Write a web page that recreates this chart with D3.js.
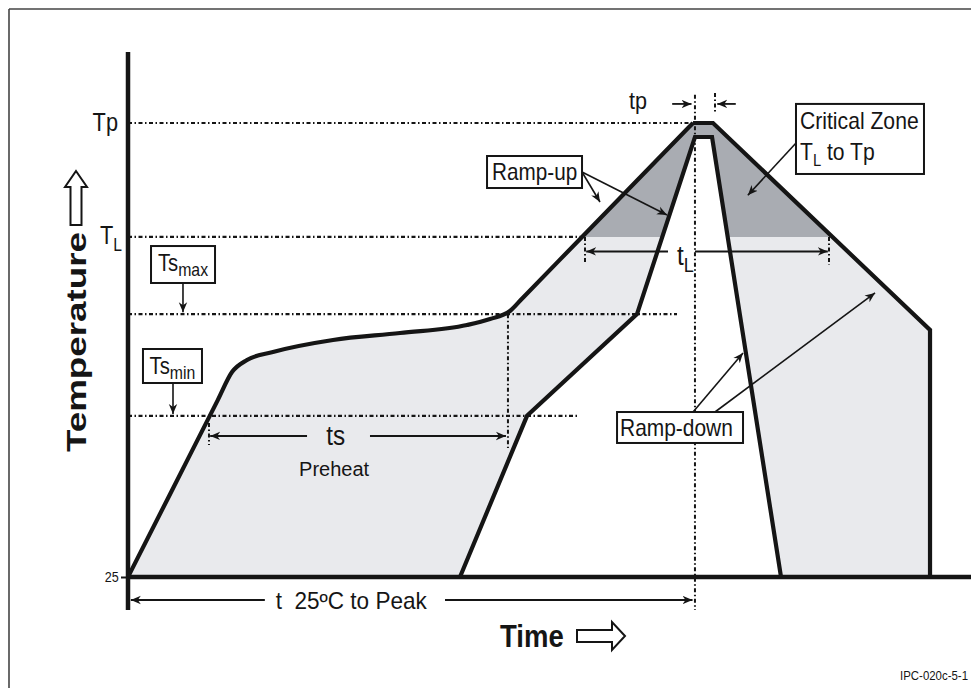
<!DOCTYPE html>
<html><head><meta charset="utf-8">
<script src="https://cdn.jsdelivr.net/npm/d3@7"></script>
<style>
html,body{margin:0;padding:0;background:#fff;}
svg{display:block;font-family:"Liberation Sans",Arial,Helvetica,sans-serif;}
</style></head><body>
<svg id="c" width="971" height="688"></svg>
<script>
// ---------- data (schematic units: time 0-100, temperature 0-100 relative) ----------
const levelNames   = ["Tp", "TL", "TsMax", "TsMin"];
const levelValues  = [100, 74.9, 57.9, 35.5];
const levelLineEnd = [70.19, 56.77, 68.2, 55.78];
const yTickValues  = [0];
const yTickLabels  = ["25"];
// outer (upper) profile – heating part
const heatTime = [0, 5, 11.15, 12.92, 14.78, 18.01, 25.47, 33.79, 42.11, 44.97, 47.45, 49.0, 56.40, 70.19];
const heatTemp = [0, 17.47, 38.97, 45.15, 47.80, 49.56, 52.20, 53.74, 55.51, 56.83, 58.59, 61.41, 74.9, 100];
// outer profile – peak and cooling
const coolTime = [70.19, 72.67, 99.63, 99.63];
const coolTemp = [100, 100, 54.41, 0];
// inner (lower) profile
const innerTime = [41.24, 49.57, 63.23, 70.43, 72.55, 81.12];
const innerTemp = [0, 35.5, 57.9, 96.92, 96.92, 0];
// time markers
const tsStart = 10.06, tsEnd = 47.2, peakTime = 70.43, tpEnd = 72.92, tLStart = 56.77, tLEnd = 87.08;

// ---------- scales ----------
const x = d3.scaleLinear().domain([0, 100]).range([128, 933]);
const y = d3.scaleLinear().domain([0, 100]).range([577, 123]);

const svg = d3.select("#c");
const INK = "#151515";

// frame
svg.append("line").attr("x1",9).attr("y1",9).attr("x2",971).attr("y2",9).attr("stroke","#444").attr("stroke-width",1.6);
svg.append("line").attr("x1",9).attr("y1",9).attr("x2",9).attr("y2",688).attr("stroke","#444").attr("stroke-width",1.6);

// defs
const defs = svg.append("defs");
defs.append("clipPath").attr("id","aboveTL").append("rect")
  .attr("x",0).attr("y",0).attr("width",971).attr("height",y(levelValues[1]));
defs.append("marker").attr("id","arr").attr("viewBox","-10 -5 11 10")
  .attr("refX",0).attr("refY",0).attr("markerWidth",11).attr("markerHeight",10)
  .attr("markerUnits","userSpaceOnUse").attr("orient","auto")
  .append("path").attr("d","M0,0L-10,-4.2L-7,0L-10,4.2Z").attr("fill",INK);

// profile generators
const heatPts = heatTime.map((t,i)=>[t,heatTemp[i]]);
const coolPts = coolTime.map((t,i)=>[t,coolTemp[i]]);
const innerPts = innerTime.map((t,i)=>[t,innerTemp[i]]);
const smooth = d3.line().x(d=>x(d[0])).y(d=>y(d[1])).curve(d3.curveMonotoneX);
const straight = d3.line().x(d=>x(d[0])).y(d=>y(d[1]));
const outerD = smooth(heatPts) + straight(coolPts).replace(/^M/,"L") + "Z";
const innerD = straight(innerPts) + "Z";

// fills
svg.append("path").attr("d",outerD).attr("fill","#e9eaed");
svg.append("path").attr("d",outerD).attr("fill","#a9acb2").attr("clip-path","url(#aboveTL)");
svg.append("path").attr("d",innerD).attr("fill","#ffffff");

// dotted reference lines
const dash = "4,2.5,1.5,2.5";
const dotted = (x1,y1,x2,y2,w)=>svg.append("line")
  .attr("x1",x(x1)).attr("y1",y(y1)).attr("x2",x(x2)).attr("y2",y(y2))
  .attr("stroke",INK).attr("stroke-width",w||2).attr("stroke-dasharray",dash);
levelValues.forEach((v,i)=>dotted(0,v,levelLineEnd[i],v,2.2));
dotted(tsEnd, levelValues[2], tsEnd, 28.4);
dotted(peakTime, 106.2, peakTime, -7.27, 2);
dotted(tpEnd, 106.6, tpEnd, 102.2);
dotted(tLStart, levelValues[1], tLStart, 69.38);
dotted(tLEnd, levelValues[1], tLEnd, 68.72);
dotted(tsStart, 33.92, tsStart, 29.07);

// axes (thick lines)
svg.append("line").attr("x1",x(0)).attr("y1",52).attr("x2",x(0)).attr("y2",y(-7.27))
  .attr("stroke",INK).attr("stroke-width",4.5);
svg.append("line").attr("x1",x(0)).attr("y1",y(0)).attr("x2",971).attr("y2",y(0))
  .attr("stroke",INK).attr("stroke-width",4.5);
const yAxis = svg.append("g").attr("transform",`translate(${x(0)-2},0)`)
  .call(d3.axisLeft(y).tickValues(yTickValues).tickFormat((d,i)=>yTickLabels[i]).tickSize(5).tickPadding(3));
yAxis.select(".domain").remove();
yAxis.selectAll("line").attr("stroke",INK).attr("stroke-width",2);
yAxis.selectAll("text").attr("font-size",14).attr("fill",INK)
  .attr("font-family","'Liberation Sans',Arial,sans-serif").attr("transform","scale(0.9,1)");

// profile lines
svg.append("path").attr("d",smooth(heatPts)).attr("fill","none").attr("stroke",INK).attr("stroke-width",4.2).attr("stroke-linejoin","round");
svg.append("path").attr("d",straight(coolPts)).attr("fill","none").attr("stroke",INK).attr("stroke-width",4.2).attr("stroke-linejoin","miter");
svg.append("path").attr("d",straight(innerPts)).attr("fill","none").attr("stroke",INK).attr("stroke-width",4.2).attr("stroke-linejoin","miter");

// arrows
const arrow = (x1,y1,x2,y2,w)=>svg.append("line")
  .attr("x1",x(x1)).attr("y1",y(y1)).attr("x2",x(x2)).attr("y2",y(y2))
  .attr("stroke",INK).attr("stroke-width",w||1.6).attr("marker-end","url(#arr)");
arrow(22.24,31.06, tsStart+0.15,31.06, 2);
arrow(30.06,31.06, tsEnd-0.25,31.06, 2);
arrow(67.08,71.7, tLStart+0.15,71.7, 2);
arrow(peakTime,71.7, tLEnd-0.15,71.7, 2);
arrow(17.0,-5.07, 0.35,-5.07, 2);
arrow(39.38,-5.07, peakTime-0.3,-5.07, 2);
arrow(67.6,104.2, 70.0,104.2, 1.8);
arrow(75.5,104.2, 73.2,104.2, 1.8);
arrow(6.83,64.76, 6.83,58.3, 1.6);
arrow(5.59,42.73, 5.59,35.9, 1.6);
arrow(56.4,89.2, 58.63,82.6);
arrow(56.4,89.2, 66.96,79.74);
arrow(83.1,95.8, 77.0,84.1);
arrow(70.19,36.34, 76.4,49.34);
arrow(72.92,36.34, 92.8,62.56);

// text helper
function label(px, py, parts, o){
  o = o||{};
  const g = svg.append("g").attr("transform",`translate(${px},${py}) scale(${o.sx||1},1)`);
  const t = g.append("text").attr("text-anchor",o.anchor||"start").attr("fill",INK)
    .attr("font-size",o.size||23).attr("font-weight",o.bold?"bold":"normal")
    .style("white-space","pre");
  parts.forEach(p=>{
    const s = t.append("tspan").text(p.t);
    if(p.sub){ s.attr("font-size",p.size||17).attr("dy",p.dy ?? 6); }
  });
  return t;
}

// boxes
const boxes = [
  {x0:44.6, x1:56.4, y0:92.73, y1:85.68},   // Ramp-up
  {x0:82.98,x1:98.88,y0:104.2, y1:88.77},   // Critical Zone
  {x0:60.75,x1:76.4, y0:36.34, y1:29.52},   // Ramp-down
  {x0:2.86, x1:10.81,y0:72.9,  y1:64.76},   // Ts max
  {x0:1.86, x1:9.19, y0:50.22, y1:42.73}    // Ts min
];
boxes.forEach(b=>svg.append("rect").attr("x",x(b.x0)).attr("y",y(b.y0))
  .attr("width",x(b.x1)-x(b.x0)).attr("height",y(b.y1)-y(b.y0))
  .attr("fill","#fff").attr("stroke",INK).attr("stroke-width",2));

label(x(boxes[0].x0)+5, y(boxes[0].y0)+24, [{t:"Ramp-up"}], {sx:0.9});
label(x(boxes[1].x0)+4, y(boxes[1].y0)+25, [{t:"Critical Zone"}], {sx:0.92});
label(x(boxes[1].x0)+4, y(boxes[1].y0)+56, [{t:"T"},{t:"L",sub:true,size:16,dy:6},{t:" to Tp",sub:true,size:23,dy:-6}], {sx:0.92});
label(x(boxes[2].x0)+3, y(boxes[2].y0)+24, [{t:"Ramp-down"}], {sx:0.91});
label((x(boxes[3].x0)+x(boxes[3].x1))/2, y(boxes[3].y0)+25, [{t:"Ts"},{t:"max",sub:true,size:18,dy:5}], {anchor:"middle",sx:0.88});
label((x(boxes[4].x0)+x(boxes[4].x1))/2, y(boxes[4].y0)+25, [{t:"Ts"},{t:"min",sub:true,size:18,dy:5}], {anchor:"middle",sx:0.88});

// level labels
label(x(0)-10, y(levelValues[0])+8, [{t:"Tp"}], {anchor:"end",size:25,sx:0.87});
label(x(0)-28, y(levelValues[1])+7, [{t:"T"},{t:"L",sub:true,size:18,dy:7}], {size:25,sx:0.87});

// other texts
label(x(63.35), y(104.2)+5, [{t:"tp"}], {anchor:"middle",size:24,sx:0.9});
label(x(68.2), y(71.7)+14, [{t:"t"},{t:"L",sub:true,size:20,dy:7}], {size:27,sx:0.9});
label(x(25.8), y(31.06)+9, [{t:"ts"}], {anchor:"middle",size:27,sx:0.9});
label(x(25.6), y(31.06)+40, [{t:"Preheat"}], {anchor:"middle",size:20});
label(x(18.35), y(-5.07)+9, [{t:"t  25ºC to Peak"}], {size:23,sx:0.98});
label(500, 647, [{t:"Time"}], {size:32,bold:true,sx:0.86});
label(968, 680, [{t:"IPC-020c-5-1"}], {anchor:"end",size:13,sx:0.88});

// Temperature (rotated)
svg.append("text").attr("transform","translate(86,342) rotate(-90)")
  .attr("text-anchor","middle").attr("font-size",28).attr("font-weight","bold").attr("fill",INK)
  .attr("textLength",220).attr("lengthAdjust","spacingAndGlyphs").text("Temperature");

// hollow arrows
const up = [[0,-54],[11,-38],[5.5,-38],[5.5,0],[-5.5,0],[-5.5,-38],[-11,-38]];
svg.append("polygon").attr("points",up.map(p=>[76+p[0],225+p[1]].join(",")).join(" "))
  .attr("fill","#fff").attr("stroke",INK).attr("stroke-width",2).attr("stroke-linejoin","miter");
const rt = [[48,0],[35,-14],[35,-6],[0,-6],[0,6],[35,6],[35,14]];
svg.append("polygon").attr("points",rt.map(p=>[577+p[0],636+p[1]].join(",")).join(" "))
  .attr("fill","#fff").attr("stroke",INK).attr("stroke-width",2).attr("stroke-linejoin","miter");
</script>
</body></html>
